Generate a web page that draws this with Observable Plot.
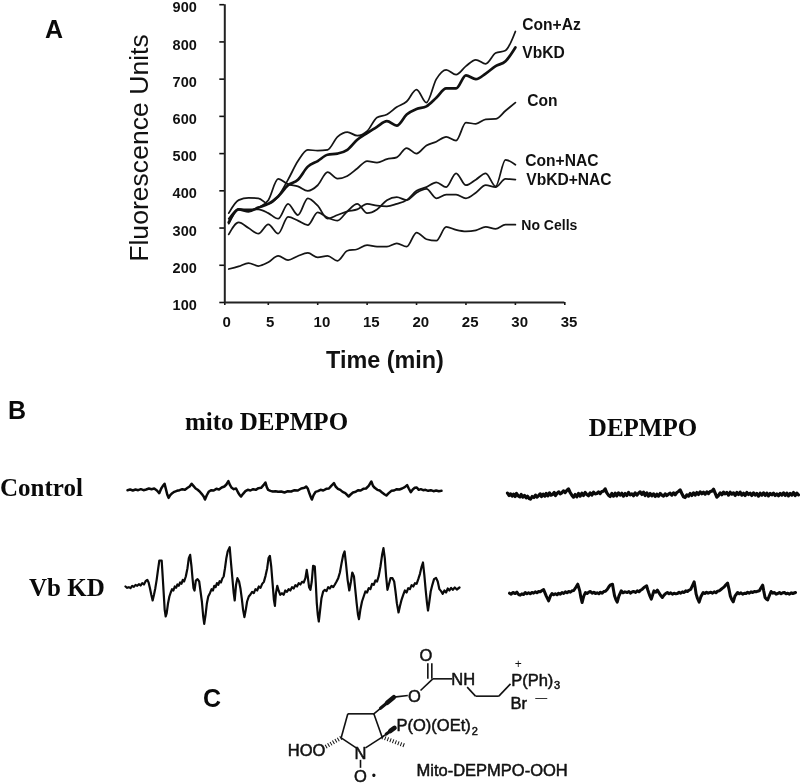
<!DOCTYPE html>
<html><head><meta charset="utf-8">
<script src="https://cdn.jsdelivr.net/npm/d3@7"></script>
<script src="https://cdn.jsdelivr.net/npm/@observablehq/plot@0.6"></script>
<style>
html,body{margin:0;padding:0;background:#fff}
#page{position:relative;width:800px;height:784px;overflow:hidden;filter:blur(.4px)}
#page svg{position:absolute;background:transparent}
.t{position:absolute;white-space:nowrap;line-height:1;color:#0a0a0a;transform:translateY(-50%)}
.s{font:bold 25px "Liberation Serif",serif}
.l{font:bold 25px "Liberation Sans",sans-serif}
</style></head><body><div id="page"></div>
<script>
// ---- Panel A: fluorescence time courses
const minutes = d3.range(1, 31);
const conAz  = [340,375,381,380,365,385,430,480,510,508,510,545,558,548,560,597,605,625,640,672,637,700,725,712,735,752,741,770,777,828];
const vbKD   = [315,350,345,355,365,385,415,430,465,480,497,500,510,537,555,572,587,575,605,620,627,650,675,675,710,700,715,735,748,785];
const con    = [325,350,347,355,375,432,418,412,400,415,450,433,440,460,480,476,485,490,515,500,522,532,545,535,583,580,592,593,615,637];
const conNAC = [312,350,350,350,340,325,365,335,380,360,325,335,345,350,365,360,358,365,375,400,410,423,410,447,415,430,447,412,483,470];
const vbNAC  = [283,315,300,285,310,285,330,320,308,342,328,320,345,365,340,350,375,383,375,395,405,380,390,390,380,395,415,410,432,430];
const noCell = [190,197,206,198,208,225,214,225,233,221,225,212,239,243,254,250,250,259,250,288,270,266,303,295,291,294,303,298,309,309];
const seriesNames = ["Con+Az","VbKD","Con","Con+NAC","VbKD+NAC","No Cells"];
const labelT = [30.7,30.7,31.2,31.0,31.1,30.6];
const labelV = [846,771,642,479,428,307];
const xTicks = [0.6,5,10,15,20,25,30,35];
const yTicks = [100,200,300,400,500,600,700,800,900];

// ---- Panel B: ESR spectra as field,signal pairs
const ctlMito = [380,1,388,3,396,0,404,3,412,1,420,4,428,1,436,3,444,6,452,4,460,6,468,0,475,-8,481,6,486,14,491,20,495,4,499,-12,503,-22,508,-14,514,-8,520,-4,528,-1,536,1,544,4,552,2,560,8,566,12,572,20,578,13,584,6,590,2,596,-3,602,-10,608,-18,612,-27,617,-15,623,-4,630,1,638,0,646,5,654,3,662,9,670,12,676,18,682,28,687,16,692,8,698,4,705,6,711,-6,716,-14,720,-18,726,-10,733,-2,740,2,748,0,756,4,764,2,772,7,780,8,787,16,793,24,797,10,801,2,808,-1,815,-3,823,-2,831,-4,840,-3,850,-6,860,-2,870,-3,880,1,890,0,900,6,910,8,915,12,920,5,925,-10,929,-20,932,-27,937,-14,943,-4,950,-2,958,2,966,0,975,5,983,6,990,14,998,22,1003,12,1010,5,1017,2,1024,-4,1032,-8,1042,-18,1048,-12,1055,-6,1063,-4,1070,1,1078,0,1086,5,1094,6,1102,14,1110,27,1115,14,1120,8,1128,2,1135,0,1142,-6,1150,-12,1155,-15,1162,-8,1170,-1,1178,0,1186,4,1194,3,1202,6,1210,10,1217,16,1222,6,1228,-5,1234,3,1240,8,1246,9,1252,2,1258,4,1265,1,1272,2,1280,-1,1288,1,1296,-2,1304,0,1312,-2,1320,-1];
const kdMito = [375,0,380,-4,385,-2,390,-5,395,2,400,-1,405,5,410,2,415,7,420,3,425,10,430,6,435,16,440,20,444,12,448,-5,452,-25,456,-42,460,-25,464,-5,468,20,472,50,476,78,483,78,486,30,489,-20,492,-70,495,-90,498,-80,502,-50,506,-30,510,-18,514,-8,518,-12,522,0,526,-4,530,6,534,2,538,12,542,8,546,20,550,15,555,30,560,55,564,85,568,95,572,60,575,25,578,-5,581,-12,585,18,590,22,595,15,599,-15,603,-45,607,-90,610,-112,614,-85,618,-50,622,-30,627,-20,632,-8,636,-12,640,2,644,-2,648,10,652,5,656,16,660,12,664,24,668,30,672,55,676,85,680,105,686,118,690,70,694,25,698,-20,701,-42,705,5,709,25,714,15,718,-5,722,-35,726,-70,730,-92,734,-70,738,-45,743,-30,748,-24,753,-16,758,-20,763,-8,768,-12,773,0,778,-4,783,8,788,14,793,32,798,55,802,85,806,92,810,60,814,10,818,-40,821,-58,824,-20,828,2,832,-12,837,-25,842,-20,847,-25,852,-12,857,-16,862,-8,867,-12,872,-2,877,-6,882,4,887,0,892,10,897,6,902,14,907,12,912,25,916,50,919,30,923,-2,927,-10,931,15,935,62,940,60,943,10,946,-50,949,-85,952,-105,956,-70,960,-35,965,-15,970,-10,975,-14,980,-2,985,-6,990,2,995,-2,1000,6,1005,15,1010,25,1015,42,1020,70,1025,95,1029,105,1033,70,1038,20,1043,-12,1048,15,1052,42,1057,30,1061,-10,1065,-50,1069,-85,1072,-98,1076,-70,1081,-45,1086,-30,1091,-15,1096,-18,1101,-5,1106,-8,1111,8,1116,5,1121,18,1126,15,1131,32,1136,60,1141,95,1145,115,1149,85,1153,30,1157,-10,1161,5,1166,25,1172,25,1177,15,1181,-15,1185,-50,1190,-78,1194,-60,1199,-40,1204,-25,1209,-12,1214,-18,1219,-5,1224,-8,1229,4,1234,0,1239,10,1244,8,1249,22,1254,38,1259,60,1263,72,1267,35,1271,-10,1275,-50,1278,-72,1282,-45,1286,-15,1291,5,1296,22,1302,26,1307,15,1312,-8,1317,-14,1322,-22,1327,-12,1332,-18,1337,-6,1342,-12,1347,-4,1352,-10,1358,-3,1364,-9,1372,-3];
const depCtl = [52,4,57,-3,61,2,66,-5,70,1,75,-6,79,3,84,-4,89,-7,93,0,98,-8,103,-3,108,-10,112,-5,117,-12,121,-14,126,-6,131,-9,136,-2,140,-8,145,-4,150,2,154,-6,159,1,164,-5,168,3,173,-4,178,5,182,-2,187,0,192,6,196,-3,201,4,206,8,210,2,215,5,220,11,225,6,230,12,235,17,240,6,245,-2,250,-8,255,0,260,-7,265,3,270,-5,275,4,280,-3,285,6,290,0,295,-4,300,5,305,-2,310,7,315,2,320,3,325,8,330,3,335,9,340,10,345,17,350,5,355,-2,360,-6,365,3,370,-5,375,4,380,-4,385,5,390,-2,395,4,400,-5,405,3,410,-3,415,6,420,-1,425,2,430,-4,435,5,440,-2,445,4,450,8,455,0,460,7,465,-3,470,5,475,-5,480,3,485,-4,490,2,495,-6,500,1,505,-5,510,3,515,-2,520,-5,525,2,530,-3,535,1,540,4,545,-2,550,5,555,-1,560,6,565,9,570,14,575,3,580,-7,585,-9,590,-1,595,-5,600,3,605,-3,610,5,615,-2,620,6,625,0,630,8,635,2,640,7,645,1,650,8,655,3,660,9,665,10,670,16,675,4,680,-8,685,-3,690,5,695,-1,700,7,705,2,710,6,715,-2,720,7,725,1,730,5,735,-3,740,6,745,0,750,7,755,-2,760,4,765,-3,770,6,775,0,780,4,785,-3,790,5,795,-2,800,3,805,-5,810,4,815,-2,820,5,825,-3,830,4,835,-4,840,3,845,-1,850,4,855,-3,860,2,865,-4,870,3,875,-2,880,5,885,-3,890,4,895,-4,900,3,905,-2,910,6,915,-3,920,4,925,-1];
const kdDep = [58,1,63,-2,68,3,75,0,80,4,85,-3,90,-5,95,-1,100,-3,105,3,110,-1,115,2,120,-1,125,3,130,1,135,5,140,2,145,6,150,5,155,9,160,12,164,2,168,-8,172,-16,175,-22,180,-8,185,0,190,-4,195,-1,200,-4,205,1,210,-2,215,3,220,0,225,5,230,2,235,6,240,4,245,8,250,9,256,18,262,28,265,18,268,8,271,-10,275,-27,280,-8,285,3,290,0,295,4,300,6,305,1,310,4,315,0,320,2,325,-1,330,4,335,1,340,6,345,7,350,12,355,20,360,26,366,28,369,10,372,-7,376,-18,380,-26,385,-8,392,8,397,2,403,5,410,3,415,6,420,1,425,5,430,6,435,3,440,8,445,5,450,10,455,13,460,18,468,23,471,12,474,3,478,-8,482,-17,486,-4,490,8,495,4,500,10,505,2,510,-6,515,-12,520,-5,525,0,530,3,535,-1,540,2,545,-2,550,1,555,-1,560,0,565,4,570,1,575,5,580,3,585,8,590,6,595,10,600,13,605,24,610,35,613,18,616,-2,620,-15,625,-26,630,-10,637,3,642,0,647,4,652,1,660,4,665,1,670,5,675,2,680,7,685,8,690,12,695,16,700,20,705,26,710,31,714,14,718,-7,722,-17,727,-25,732,-8,740,3,745,-1,750,2,755,-2,760,1,765,0,770,4,775,1,780,5,785,3,790,6,795,5,800,7,805,8,810,17,815,25,818,8,822,-12,826,-17,830,-19,835,-6,840,6,845,1,850,3,855,-2,860,0,865,3,870,-1,875,2,880,3,885,-1,890,1,895,-2,900,2,905,0,913,3];

// ---- Panel C: structure drawing
const bonds = [[452,292,472,220],[472,220,550,220],[550,220,575,290],[575,290,525,322],[452,292,497,322],[510,358,510,382],[610,170,652,165],[690,150,727,115],[712,68,712,115],[724,68,724,115],[727,115,785,115],[830,140,855,167],[855,167,925,167],[925,167,960,130]];
const wedges = [[550,220,610,170],[575,290,612,262]];
const hashes = [[575,290,642,315],[452,292,403,320]];
const atoms = ["O","NH","O","P(Ph)","Br","P(O)(OEt)","HOO","N","O","Mito-DEPMPO-OOH"];
const atomX = [706,818,672,962,960,618,292,510,510,678];
const atomY = [45,118,168,122,190,257,330,340,408,392];

const FONT = '"Liberation Sans",Arial,sans-serif', INK = "#111";
const page = document.getElementById("page");
const put = (svg, l, t) => { svg.style.left = l + "px"; svg.style.top = t + "px"; page.append(svg); };
const note = (cls, text, x, y, center) => { const d = document.createElement("div"); d.className = "t " + cls; d.textContent = text; d.style.left = x + "px"; d.style.top = y + "px"; if (center) d.style.transform = "translate(-50%,-50%)"; page.append(d); };

const rows = [conAz, vbKD, con, conNAC, vbNAC, noCell];
const table = seriesNames.flatMap((name, k) => minutes.map((t, i) => ({name, t, v: rows[k][i]})));
const labels = seriesNames.map((name, i) => ({name, t: labelT[i], v: labelV[i]}));
const txt = {fontFamily: FONT, fontWeight: "bold", fill: INK};

const chart = Plot.plot({
  width: 800, height: 784,
  marginLeft: 224.3, marginRight: 235.7, marginTop: 4.2, marginBottom: 482,
  x: {domain: [0.6, 35], axis: null},
  y: {domain: [100, 900], axis: null},
  style: {background: "transparent"},
  marks: [
    Plot.axisX({ticks: xTicks, tickSize: 3, tickFormat: () => "", label: null, stroke: INK, strokeWidth: 1.6}),
    Plot.axisY({ticks: yTicks, tickSize: 5, tickFormat: () => "", label: null, stroke: INK, strokeWidth: 1.6}),
    Plot.ruleX([0.6], {y1: 100, y2: 900, stroke: "#222", strokeWidth: 2}),
    Plot.ruleY([100], {x1: 0.6, x2: 35, stroke: "#222", strokeWidth: 2}),
    Plot.text(xTicks, {x: d => d + (d > 5 ? 0.43 : 0.2), y: () => 100, dy: 20, text: d => d < 1 ? "0" : String(d), fontSize: 15, ...txt}),
    Plot.text(yTicks, {x: () => 0.6, y: d => d, dy: 3, dx: -28, textAnchor: "end", text: d => String(d), fontSize: 14.5, ...txt}),
    Plot.line(table.filter(d => d.name !== "VbKD"), {x: "t", y: "v", z: "name", stroke: "#151515", strokeWidth: 1.75, curve: "monotone-x"}),
    Plot.line(table.filter(d => d.name === "VbKD"), {x: "t", y: "v", stroke: "#111", strokeWidth: 2.7, curve: "monotone-x"}),
    Plot.text(labels.filter(d => d.name !== "No Cells"), {x: "t", y: "v", text: "name", textAnchor: "start", fontSize: 15.6, ...txt}),
    Plot.text(labels.filter(d => d.name === "No Cells"), {x: "t", y: "v", text: "name", textAnchor: "start", fontSize: 14, ...txt})
  ]
});
put(chart, 0, 0);

// one small plot per spectrum
const pairs = a => d3.range(0, a.length, 2).map(i => ({f: a[i], s: a[i + 1]}));
function spectrum(flat, yDomain, left, top, w, h, sw) {
  const data = pairs(flat);
  put(Plot.plot({
    width: w, height: h, margin: 0,
    x: {domain: d3.extent(data, d => d.f), range: [2, w - 2], axis: null},
    y: {domain: yDomain, axis: null},
    style: {background: "transparent"},
    marks: [Plot.line(data, {x: "f", y: "s", stroke: "#0a0a0a", strokeWidth: sw, strokeLinejoin: "round"})]
  }), left, top);
}
spectrum(ctlMito, [-60, 60], 125, 470, 318, 40, 2.5);
spectrum(kdMito, [-135, 135], 123, 541, 338, 90, 2.2);
spectrum(depCtl, [-60, 60], 505, 474, 295, 40, 3.2);
spectrum(kdDep, [-60, 60], 507, 572.7, 290, 40, 3);

// structure
const seg = bonds.map(([x1, y1, x2, y2]) => ({x1, y1, x2, y2}));
const taper = wedges.flatMap(([a, b, c, d]) => [0, 1, 2].map(k => ({x1: a + (c - a) * k / 3, y1: b + (d - b) * k / 3, x2: a + (c - a) * (k + 1) / 3, y2: b + (d - b) * (k + 1) / 3, w: 1.6 + k * 1.5})));
const hsh = hashes.map(([x1, y1, x2, y2]) => ({x1, y1, x2, y2}));
const atomRows = atoms.map((a, i) => ({a, x: atomX[i], y: atomY[i]}));
const isLeft = d => !["O", "NH", "N"].includes(d.a);
const heavy = {fontFamily: FONT, fill: INK, stroke: INK, strokeWidth: .5};
put(Plot.plot({
  width: 400, height: 144, margin: 0,
  x: {domain: [0, 1200], axis: null},
  y: {domain: [432, 0], axis: null},
  style: {background: "transparent"},
  marks: [
    Plot.link(seg, {x1: "x1", y1: "y1", x2: "x2", y2: "y2", stroke: INK, strokeWidth: 1.6}),
    Plot.link(taper, {x1: "x1", y1: "y1", x2: "x2", y2: "y2", stroke: INK, strokeWidth: d => d.w, strokeLinecap: "round"}),
    Plot.link(hsh, {x1: "x1", y1: "y1", x2: "x2", y2: "y2", stroke: INK, strokeWidth: 4, strokeDasharray: "1,1.8"}),
    Plot.text(atomRows.filter(d => !isLeft(d)), {x: "x", y: "y", text: "a", fontSize: 16.5, ...heavy}),
    Plot.text(atomRows.filter(isLeft), {x: "x", y: "y", text: "a", textAnchor: "start", fontSize: 16.5, ...heavy}),
    Plot.text(["2", "3"], {x: [853, 1100], y: [274, 136], text: d => d, fontSize: 11, ...heavy}),
    Plot.text(["+", "\u2014", "\u2022"], {x: [983, 1052, 550], y: [72, 172, 408], text: d => d, fontSize: 12, fontFamily: FONT, fill: INK})
  ]
}), 190, 640);

// page text
note("l", "A", 45, 29);
note("l", "B", 8, 410);
note("l", "C", 203, 698);
note("s", "mito DEPMPO", 266.5, 421.5, true);
note("s", "DEPMPO", 643, 428, true);
note("s", "Control", 0, 488);
note("s", "Vb KD", 29, 588);
const yt = document.createElement("div");
yt.textContent = "Fluorescence Units";
yt.style.cssText = `position:absolute;left:139px;top:147.5px;white-space:nowrap;line-height:1;color:#111;font:26.6px ${FONT};transform:translate(-50%,-50%) rotate(-90deg)`;
page.append(yt);
const xt = document.createElement("div");
xt.textContent = "Time (min)";
xt.style.cssText = `position:absolute;left:385px;top:360px;white-space:nowrap;line-height:1;color:#111;font:bold 23.4px ${FONT};transform:translate(-50%,-50%)`;
page.append(xt);
</script></body></html>
